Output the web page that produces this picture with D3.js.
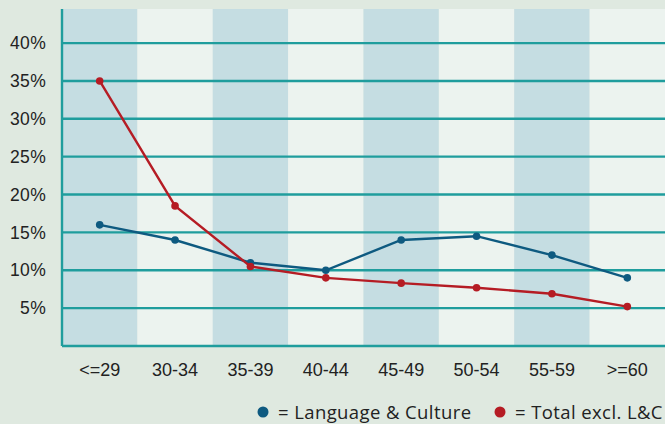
<!DOCTYPE html>
<html>
<head>
<meta charset="utf-8">
<script src="https://cdn.jsdelivr.net/npm/d3@7"></script>
<style>
  body { margin: 0; background: #dfe9e0; }
  svg { display: block; font-family: "Open Sans", "DejaVu Sans", sans-serif; }
</style>
</head>
<body>
<svg width="665" height="424"></svg>
<script>
// age groups and shares (%)
const ageGroups = ['<=29', '30-34', '35-39', '40-44', '45-49', '50-54', '55-59', '>=60'];
const langCulture = [16, 14, 11, 10, 14, 14.5, 12, 9];
const totalExcl = [35, 18.5, 10.5, 9, 8.3, 7.7, 6.9, 5.2];
const yTicks = [5, 10, 15, 20, 25, 30, 35, 40];

const seriesNames = ['Language & Culture', 'Total excl. L&C'];
const seriesColors = ['#0e5a80', '#b51c24'];

const svg = d3.select('svg');
const margin = { left: 62, right: 0, top: 9, bottom: 78 };
const w = 665 - margin.left - margin.right;
const h = 424 - margin.top - margin.bottom;

svg.append('rect').attr('width', 665).attr('height', 424).attr('fill', '#dfe9e0');

const x = d3.scaleBand().domain(ageGroups).range([0, w]).padding(0);
const y = d3.scaleLinear().domain([0, 44.5]).range([h, 0]);

const g = svg.append('g').attr('transform', `translate(${margin.left},${margin.top})`);

// alternating column bands
g.selectAll('rect.band')
  .data(ageGroups)
  .enter().append('rect')
  .attr('class', 'band')
  .attr('x', d => x(d))
  .attr('y', 0)
  .attr('width', x.bandwidth())
  .attr('height', h)
  .attr('fill', (d, i) => i % 2 === 0 ? '#c5dde2' : '#ecf3ef');

// grid lines
g.selectAll('line.grid')
  .data(yTicks)
  .enter().append('line')
  .attr('x1', 0).attr('x2', w)
  .attr('y1', d => y(d)).attr('y2', d => y(d))
  .attr('stroke', '#1f9d9d')
  .attr('stroke-width', 2.4);

// y axis
const yAxis = d3.axisLeft(y).tickValues(yTicks).tickFormat(d => d + '%').tickSize(0).tickPadding(16);
const yg = g.append('g').call(yAxis);
yg.select('.domain').remove();
yg.selectAll('text').attr('font-size', 17.5).attr('fill', '#222').attr('letter-spacing', 0.3);

// x axis
const xAxis = d3.axisBottom(x).tickSize(0).tickPadding(17);
const xg = g.append('g').attr('transform', `translate(0,${h})`).call(xAxis);
xg.select('.domain').remove();
xg.selectAll('text').attr('font-size', 18).attr('fill', '#222');

// frame lines (left + bottom)
g.append('line').attr('x1', 0).attr('x2', 0).attr('y1', 0).attr('y2', h)
  .attr('stroke', '#1f9d9d').attr('stroke-width', 2.4);
g.append('line').attr('x1', 0).attr('x2', w).attr('y1', h).attr('y2', h)
  .attr('stroke', '#1f9d9d').attr('stroke-width', 2.4);

// lines + points
const allSeries = [langCulture, totalExcl];
const line = d3.line()
  .x((d, i) => x(ageGroups[i]) + x.bandwidth() / 2)
  .y(d => y(d));

allSeries.forEach((vals, s) => {
  g.append('path')
    .datum(vals)
    .attr('d', line)
    .attr('fill', 'none')
    .attr('stroke', seriesColors[s])
    .attr('stroke-width', 2.4);
  g.selectAll('circle.s' + s)
    .data(vals)
    .enter().append('circle')
    .attr('cx', (d, i) => x(ageGroups[i]) + x.bandwidth() / 2)
    .attr('cy', d => y(d))
    .attr('r', 3.8)
    .attr('fill', seriesColors[s]);
});

// legend
const legendX = [263, 500];
const legend = svg.append('g');
seriesNames.forEach((name, i) => {
  legend.append('circle')
    .attr('cx', legendX[i]).attr('cy', 412).attr('r', 5.5)
    .attr('fill', seriesColors[i]);
  legend.append('text')
    .attr('x', legendX[i] + 15).attr('y', 419)
    .attr('font-size', 18.5).attr('fill', '#222')
    .attr('letter-spacing', 0.4)
    .text('= ' + name);
});
</script>
</body>
</html>
